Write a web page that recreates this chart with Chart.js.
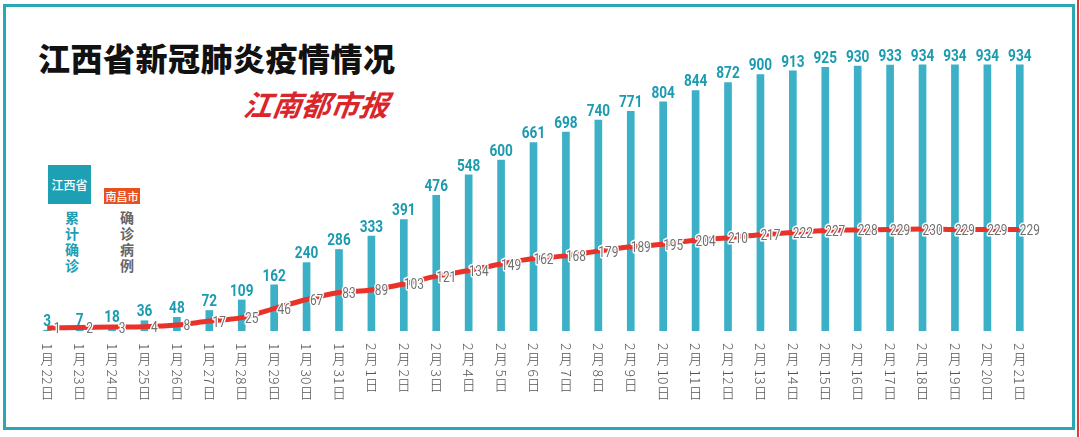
<!DOCTYPE html>
<html>
<head>
<meta charset="utf-8">
<script src="https://cdn.jsdelivr.net/npm/chart.js@4.4.0/dist/chart.umd.min.js"></script>
<style>
  body { margin: 0; background: #fff; }
  #wrap { position: relative; width: 1080px; height: 437px; overflow: hidden; }
  #frame { position: absolute; left: 3px; top: 4px; width: 1066px; height: 420px; border: 3px solid #2aa6b5; }
  #edge { position: absolute; left: 1077px; top: 0; width: 2px; height: 437px; background: #e03a3e; }
  #title { position: absolute; left: 38px; top: 34px; font: 900 32px "Noto Sans CJK SC"; color: #111; letter-spacing: 0.5px; white-space: nowrap; }
  #logo { position: absolute; left: 244px; top: 82px; font: italic 700 29px "Noto Sans CJK SC"; color: #d9262b; transform: skewX(-8deg); white-space: nowrap; }
  .box { position: absolute; color: #fff; font: 500 12px "Noto Sans CJK SC"; text-align: center; }
  #boxA { left: 48px; top: 165px; width: 43px; height: 39px; line-height: 39px; background: #1ea0b4; }
  #boxB { left: 104px; top: 188px; width: 36px; height: 16px; line-height: 16px; background: #e8501e; font-size: 11px; }
  .vert { position: absolute; writing-mode: vertical-rl; font: 700 14px "Noto Sans CJK SC"; letter-spacing: 2px; }
  #vA { left: 62px; top: 211px; color: #1e9db3; }
  #vB { left: 117px; top: 211px; color: #666; }
  canvas { position: absolute; left: 0; top: 0; }
</style>
</head>
<body>
<div id="wrap">
  <div id="frame"></div>
  <div id="edge"></div>
  <div id="title">江西省新冠肺炎疫情情况</div>
  <div id="logo">江南都市报</div>
  <div class="box" id="boxA">江西省</div>
  <div class="box" id="boxB">南昌市</div>
  <div class="vert" id="vA">累计确诊</div>
  <div class="vert" id="vB">确诊病例</div>
  <canvas id="my-chart" width="1080" height="437"></canvas>
</div>
<script>
"use strict";

// data
let days = ["1月22日", "1月23日", "1月24日", "1月25日", "1月26日", "1月27日", "1月28日", "1月29日", "1月30日", "1月31日",
  "2月1日", "2月2日", "2月3日", "2月4日", "2月5日", "2月6日", "2月7日", "2月8日", "2月9日", "2月10日",
  "2月11日", "2月12日", "2月13日", "2月14日", "2月15日", "2月16日", "2月17日", "2月18日", "2月19日", "2月20日", "2月21日"];

let jiangxiTotal = [3, 7, 18, 36, 48, 72, 109, 162, 240, 286,
  333, 391, 476, 548, 600, 661, 698, 740, 771, 804,
  844, 872, 900, 913, 925, 930, 933, 934, 934, 934, 934];

let nanchangTotal = [1, 2, 3, 4, 8, 17, 25, 46, 67, 83,
  89, 103, 121, 134, 149, 162, 168, 179, 189, 195,
  204, 210, 217, 222, 227, 228, 229, 230, 229, 229, 229];

// narrow text: squeeze horizontally since no condensed font is around
function squeezed(ctx, t, x, y, sx, outline) {
  ctx.save();
  ctx.translate(x, y);
  ctx.scale(sx, 1);
  if (outline) ctx.strokeText(t, 0, 0);
  ctx.fillText(t, 0, 0);
  ctx.restore();
}

// value labels on bars and on the line, plus the date labels
let labelPlugin = {
  id: "labels",
  afterDatasetsDraw(chart) {
    let ctx = chart.ctx;
    ctx.save();

    let bars = chart.getDatasetMeta(0).data;
    ctx.font = 'bold 17px Roboto';
    ctx.fillStyle = "#1b9bb0";
    ctx.textAlign = "center";
    ctx.textBaseline = "bottom";
    for (let i = 0; i < bars.length; i++) {
      squeezed(ctx, String(jiangxiTotal[i]), bars[i].x, bars[i].y, 0.8, false);
    }

    let pts = chart.getDatasetMeta(1).data;
    ctx.font = '14px Roboto';
    ctx.textBaseline = "middle";
    ctx.lineWidth = 3;
    ctx.lineJoin = "round";
    ctx.strokeStyle = "#fff";
    ctx.fillStyle = "#707070";
    for (let i = 0; i < pts.length; i++) {
      squeezed(ctx, String(nanchangTotal[i]), pts[i].x + 10, pts[i].y + 2, 0.85, true);
    }

    // vertical date labels: CJK upright, digit runs turned sideways
    let xs = chart.scales.x;
    ctx.font = '300 14px "Noto Sans CJK SC"';
    ctx.fillStyle = "#555";
    for (let i = 0; i < days.length; i++) {
      let x = xs.getPixelForValue(i);
      let y = 342;
      let parts = days[i].match(/\d+|\D/g);
      for (let p of parts) {
        if (/\d/.test(p)) {
          let w = ctx.measureText(p).width;
          ctx.save();
          ctx.translate(x, y);
          ctx.rotate(Math.PI / 2);
          ctx.textAlign = "left";
          ctx.textBaseline = "middle";
          ctx.fillText(p, 1, 0);
          ctx.restore();
          y += w + 3;
        } else {
          ctx.textAlign = "center";
          ctx.textBaseline = "top";
          ctx.fillText(p, x, y - 1);
          y += 16;
        }
      }
    }
    ctx.restore();
  },
};

let ctx = document.getElementById("my-chart").getContext("2d");

let myChart = new Chart(ctx, {
  data: {
    labels: days,
    datasets: [
      {
        type: "bar",
        label: "江西省",
        data: jiangxiTotal,
        backgroundColor: "#3bb0c6",
        barThickness: 7,
        yAxisID: "y",
        order: 2,
      },
      {
        type: "line",
        label: "南昌市",
        data: nanchangTotal,
        borderColor: "#e8322a",
        borderWidth: 5,
        pointRadius: 0,
        tension: 0.35,
        yAxisID: "y2",
        order: 1,
      },
    ],
  },
  options: {
    responsive: false,
    animation: false,
    layout: { padding: { left: 31, right: 44, top: 62, bottom: 106 } },
    plugins: { legend: { display: false }, tooltip: { enabled: false } },
    scales: {
      x: { display: false, offset: true },
      y: { display: false, min: 0, max: 944 },
      y2: { display: false, min: -6, max: 617 },
    },
  },
  plugins: [labelPlugin],
});
</script>
</body>
</html>
